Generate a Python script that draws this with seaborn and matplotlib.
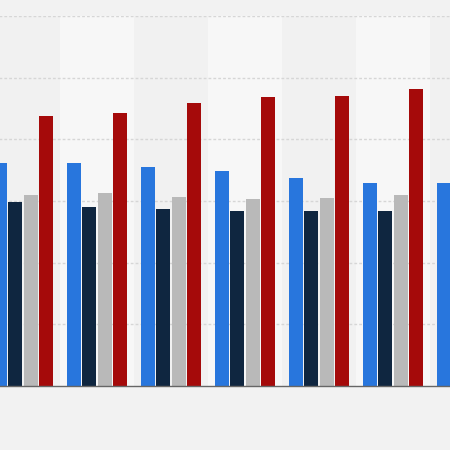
# Importando as bibliotecas

import pandas as pd
import matplotlib.pyplot as plt
import seaborn as sns

# Dados (cada linha de grade = 10)

categorias = ["2015", "2016", "2017", "2018", "2019", "2020", "2021"]
serie_azul = [36.1, 36.1, 35.5, 34.8, 33.7, 32.9, 32.9]
serie_marinho = [29.8, 29.0, 28.7, 28.4, 28.4, 28.4, 28.4]
serie_cinza = [31.0, 31.3, 30.6, 30.3, 30.5, 31.0, 30.8]
serie_vermelha = [43.8, 44.2, 45.9, 46.8, 47.0, 48.1, 48.5]

nomes_series = ["Série 1", "Série 2", "Série 3", "Série 4"]
cores = ["#2876dd", "#0f2640", "#b9b9b9", "#a50a0a"]


# Montando a tabela no formato longo

df = pd.DataFrame({
    "categoria": categorias * 4,
    "serie": [n for n in nomes_series for _ in categorias],
    "valor": serie_azul + serie_marinho + serie_cinza + serie_vermelha,
})


# Criando a figura (o gráfico original está recortado nas bordas)

fig = plt.figure(figsize=(4.5, 4.5), dpi=100)
fig.patch.set_facecolor("#f2f2f2")

ax = fig.add_axes([-14 / 450, 64 / 450, 518 / 450, 370.2 / 450])
ax.set_facecolor("#f1f1f1")

sns.barplot(
    data=df, x="categoria", y="valor", hue="serie",
    palette=cores, width=0.84, gap=0.08, saturation=1,
    legend=False, ax=ax, zorder=2,
)

# Faixas alternadas no fundo
for i in range(len(categorias)):
    if i % 2 == 1:
        ax.axvspan(i - 0.5, i + 0.5, color="#f7f7f7", zorder=0, lw=0)

ax.set_xlim(-0.5, 6.5)
ax.set_ylim(0, 60)
ax.set_yticks([10, 20, 30, 40, 50, 60])
ax.set_axisbelow(True)
ax.yaxis.grid(True, color="#d6d6d6", linestyle=(0, (2, 1.5)), linewidth=1)
ax.xaxis.grid(False)

# Removendo textos e bordas
ax.set_xlabel("")
ax.set_ylabel("")
ax.set_xticklabels([])
ax.set_yticklabels([])
ax.tick_params(length=0)
for lado in ["top", "left", "right"]:
    ax.spines[lado].set_visible(False)
ax.spines["bottom"].set_color("#666666")
ax.spines["bottom"].set_linewidth(1)

fig.savefig("out.png", dpi=100, facecolor=fig.get_facecolor())
